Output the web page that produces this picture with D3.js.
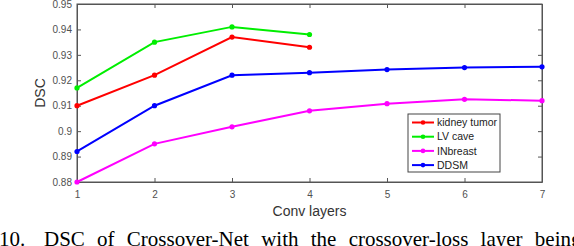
<!DOCTYPE html>
<html lang="en">
<head>
  <meta charset="UTF-8">
  <title>DSC vs Conv layers</title>
  <script src="https://d3js.org/d3.v7.min.js"></script>
  <style>
    body, html {
      margin: 0;
      padding: 0;
      background: #fff;
    }
    svg {
      display: block;
    }
    .tick text {
      font-family: "Liberation Sans", Arial, sans-serif;
      font-size: 10px;
      fill: #505050;
    }
    .axis-title {
      font-family: "Liberation Sans", Arial, sans-serif;
      font-size: 14px;
      fill: #333;
    }
    .legend text {
      font-family: "Liberation Sans", Arial, sans-serif;
      font-size: 10.5px;
      fill: #222;
    }
    .caption {
      font-family: "Liberation Serif", "Times New Roman", serif;
      font-size: 21px;
      fill: #000;
    }
  </style>
</head>
<body>
  <svg width="574" height="246"></svg>

  <script>
    // x categories
    const layers = [1, 2, 3, 4, 5, 6, 7];
    const yTicks = [0.88, 0.89, 0.9, 0.91, 0.92, 0.93, 0.94, 0.95];

    // series values
    const kidneyTumor = [0.910, 0.922, 0.937, 0.933];
    const lvCave = [0.917, 0.935, 0.941, 0.938];
    const inBreast = [0.880, 0.895, 0.9017, 0.908, 0.9108, 0.9125, 0.912];
    const ddsm = [0.892, 0.910, 0.922, 0.923, 0.9242, 0.925, 0.9253];

    const seriesNames = ["kidney tumor", "LV cave", "INbreast", "DDSM"];
    const seriesColors = ["#ff0000", "#00ee00", "#ff00ff", "#0000ff"];
    const seriesValues = [kidneyTumor, lvCave, inBreast, ddsm];

    const margin = { left: 77, right: 32, top: 4, bottom: 64 };
    const width = 574, height = 246;

    const svg = d3.select("svg");

    const x = d3.scaleLinear()
      .domain([1, 7])
      .range([margin.left, width - margin.right]);

    const y = d3.scaleLinear()
      .domain([0.88, 0.95])
      .range([height - margin.bottom, margin.top]);

    // box
    svg.append("rect")
      .attr("x", x(1))
      .attr("y", y(0.95))
      .attr("width", x(7) - x(1))
      .attr("height", y(0.88) - y(0.95))
      .attr("fill", "none")
      .attr("stroke", "#555")
      .attr("stroke-width", 1);

    // matlab style labels: 0.9 not 0.90
    const yFmt = d => {
      let s = d.toFixed(2);
      if (s.endsWith("0")) s = s.slice(0, -1);
      return s;
    };

    // axes with inward ticks
    const xAxis = svg.append("g")
      .attr("transform", `translate(0,${y(0.88)})`)
      .call(d3.axisBottom(x).tickValues(layers).tickFormat(d3.format("d")).tickSizeInner(-4).tickSizeOuter(0).tickPadding(9));

    const yAxis = svg.append("g")
      .attr("transform", `translate(${x(1)},0)`)
      .call(d3.axisLeft(y).tickValues(yTicks).tickFormat(yFmt).tickSizeInner(-4).tickSizeOuter(0).tickPadding(5));

    const topAxis = svg.append("g")
      .attr("transform", `translate(0,${y(0.95)})`)
      .call(d3.axisTop(x).tickValues(layers).tickFormat("").tickSizeInner(-4).tickSizeOuter(0));

    const rightAxis = svg.append("g")
      .attr("transform", `translate(${x(7)},0)`)
      .call(d3.axisRight(y).tickValues(yTicks).tickFormat("").tickSizeInner(-4).tickSizeOuter(0));

    [xAxis, yAxis, topAxis, rightAxis].forEach(g => {
      g.select(".domain").attr("stroke", "#555");
      g.selectAll(".tick line").attr("stroke", "#555");
    });

    // lines
    const line = d3.line()
      .x((d, i) => x(layers[i]))
      .y(d => y(d));

    seriesValues.forEach((vals, k) => {
      svg.append("path")
        .datum(vals)
        .attr("d", line)
        .attr("fill", "none")
        .attr("stroke", seriesColors[k])
        .attr("stroke-width", 2);

      svg.selectAll(null)
        .data(vals)
        .enter().append("circle")
        .attr("cx", (d, i) => x(layers[i]))
        .attr("cy", d => y(d))
        .attr("r", 2.6)
        .attr("fill", seriesColors[k]);
    });

    // axis titles
    svg.append("text")
      .attr("class", "axis-title")
      .attr("text-anchor", "middle")
      .attr("x", (x(1) + x(7)) / 2)
      .attr("y", 216)
      .text("Conv layers");

    svg.append("text")
      .attr("class", "axis-title")
      .attr("text-anchor", "middle")
      .attr("transform", `translate(45,${(y(0.88) + y(0.95)) / 2}) rotate(-90)`)
      .text("DSC");

    // legend
    const legend = svg.append("g").attr("class", "legend")
      .attr("transform", "translate(408,114)");

    legend.append("rect")
      .attr("width", 92)
      .attr("height", 58)
      .attr("fill", "#fff")
      .attr("stroke", "#444")
      .attr("stroke-width", 1);

    const items = legend.selectAll(".item")
      .data(seriesNames)
      .enter().append("g")
      .attr("class", "item")
      .attr("transform", (d, i) => `translate(0,${8.5 + i * 14.2})`);

    items.append("line")
      .attr("x1", 4).attr("x2", 26)
      .attr("stroke", (d, i) => seriesColors[i])
      .attr("stroke-width", 2);

    items.append("circle")
      .attr("cx", 15).attr("r", 2.3)
      .attr("fill", (d, i) => seriesColors[i]);

    items.append("text")
      .attr("x", 29)
      .attr("dy", "0.35em")
      .text(d => d);

    // caption fragment at the bottom, cut like the source
    svg.append("text")
      .attr("class", "caption")
      .attr("x", -1)
      .attr("y", 246)
      .text("10.");

    svg.append("text")
      .attr("class", "caption")
      .attr("x", 44)
      .attr("y", 246)
      .attr("word-spacing", "7px")
      .text("DSC of Crossover-Net with the crossover-loss layer being");
  </script>
</body>
</html>
